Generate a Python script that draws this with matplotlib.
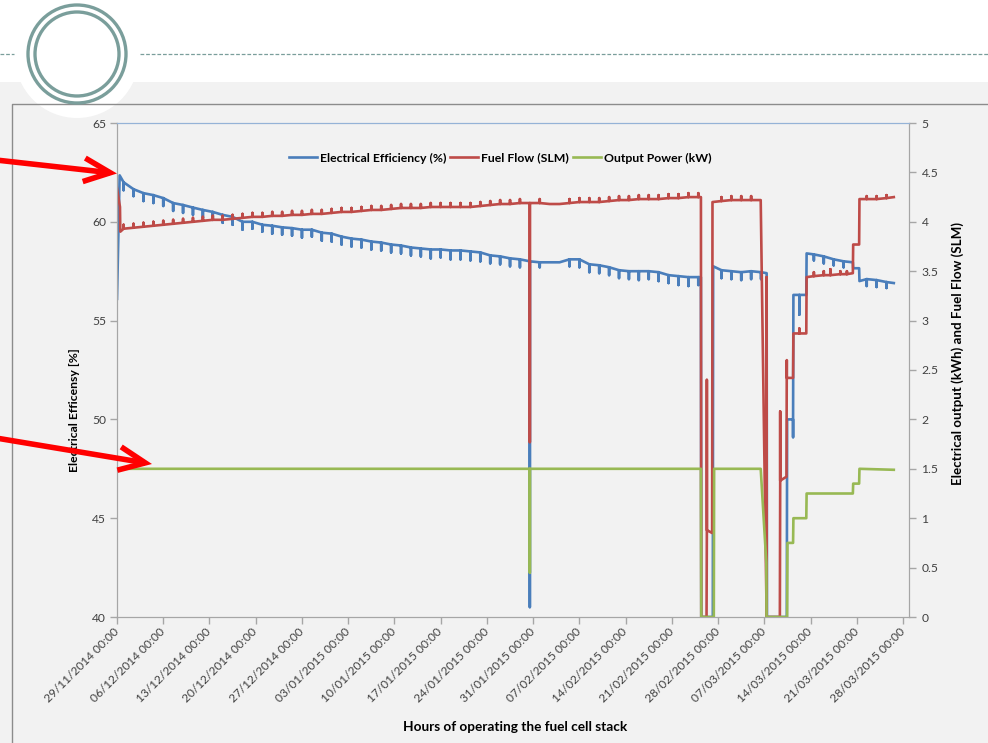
import matplotlib
matplotlib.use('Agg')
import matplotlib.pyplot as plt
from matplotlib.patches import Rectangle, Circle, FancyArrowPatch
from matplotlib.lines import Line2D
from matplotlib.transforms import IdentityTransform

plt.rcParams['font.family'] = ['Lato', 'DejaVu Sans']

# days since 29/11/2014 00:00
grid_day = [1.0, 2.5, 4.0, 5.5, 7.0, 8.5, 10.0, 11.5, 13.0, 14.5,
            16.0, 17.5, 19.0, 20.5, 22.0, 23.5, 25.0, 26.5, 28.0, 29.5,
            31.0, 32.5, 34.0, 35.5, 37.0, 38.5, 40.0, 41.5, 43.0, 44.5,
            46.0, 47.5, 49.0, 50.5, 52.0, 53.5, 55.0, 56.5, 58.0, 59.5,
            61.0, 62.5, 64.0, 65.5, 67.0, 68.5, 70.0, 71.5, 73.0, 74.5,
            76.0, 77.5, 79.0, 80.5, 82.0, 83.5, 85.0, 86.5, 88.0]

# Electrical efficiency (%) - level and the low end of each dip
eff_head_day = [0.0, 0.4]
eff_head = [56.1, 62.35]
eff_grid = [62.0, 61.65, 61.45, 61.35, 61.2, 60.95, 60.85, 60.72, 60.6, 60.5,
            60.35, 60.25, 60.0, 60.0, 59.85, 59.8, 59.72, 59.68, 59.6, 59.6,
            59.45, 59.4, 59.25, 59.15, 59.1, 59.0, 58.95, 58.85, 58.8, 58.7,
            58.65, 58.6, 58.6, 58.55, 58.55, 58.5, 58.45, 58.3, 58.25, 58.15,
            58.1, 58.0, 57.95, 57.95, 57.95, 58.1, 58.1, 57.85, 57.8, 57.7,
            57.55, 57.5, 57.5, 57.5, 57.45, 57.3, 57.25, 57.2, 57.2]
eff_grid_low = [61.6, 61.3, 61.05, 60.95, 60.8, 60.55, 60.45, 60.35, 60.2, 60.1,
                59.95, 59.85, 59.6, 59.65, 59.5, 59.4, 59.35, 59.3, 59.2, 59.25,
                59.05, 59.0, 58.85, 58.75, 58.7, 58.6, 58.55, 58.45, 58.4, 58.3,
                58.25, 58.15, 58.2, 58.1, 58.1, 58.05, 58.0, 57.9, 57.85, 57.75,
                57.7, 40.5, 57.7, 57.95, 57.95, 57.75, 57.7, 57.45, 57.4, 57.3,
                57.15, 57.1, 57.05, 57.1, 57.0, 56.9, 56.8, 56.75, 56.8]
eff_tail_day = [88.4, 88.45, 90.2, 90.25, 91.5, 93.0, 94.5, 96.0, 97.5, 98.35,
                98.4, 101.4, 101.45, 102.35, 102.4, 103.3, 104.35, 104.4, 105.5, 107.0,
                108.5, 110.0, 111.4, 111.45, 112.35, 112.4, 113.5, 115.0, 116.5, 117.6]
eff_tail = [57.2, 40.0, 40.0, 57.75, 57.55, 57.5, 57.45, 57.5, 57.45, 57.4,
            40.0, 40.0, 50.0, 50.0, 56.3, 56.3, 56.3, 58.4, 58.35, 58.25,
            58.1, 58.0, 57.95, 57.65, 57.65, 57.0, 57.1, 57.05, 56.95, 56.9]
eff_tail_low = [57.2, 40.0, 40.0, 57.75, 57.15, 57.1, 57.05, 57.1, 57.1, 57.4,
                40.0, 40.0, 50.0, 49.1, 56.3, 55.3, 56.3, 58.4, 58.05, 57.9,
                57.8, 57.7, 57.95, 57.65, 57.65, 57.0, 56.75, 56.7, 56.65, 56.9]

# Fuel flow (SLM) - level and the end of each spike
flow_head_day = [0.0, 0.45, 0.5]
flow_head = [4.34, 4.15, 3.9]
flow_grid = [3.93, 3.94, 3.95, 3.96, 3.97, 3.98, 3.99, 4.0, 4.01, 4.02,
             4.02, 4.03, 4.04, 4.05, 4.05, 4.06, 4.06, 4.07, 4.07, 4.08,
             4.08, 4.09, 4.1, 4.1, 4.11, 4.12, 4.12, 4.13, 4.14, 4.14,
             4.14, 4.15, 4.15, 4.15, 4.15, 4.15, 4.16, 4.17, 4.18, 4.18,
             4.19, 4.19, 4.19, 4.18, 4.18, 4.19, 4.2, 4.2, 4.2, 4.21,
             4.22, 4.22, 4.23, 4.23, 4.23, 4.24, 4.24, 4.25, 4.25]
flow_grid_peak = [3.97, 3.98, 3.99, 4.0, 4.01, 4.02, 4.03, 4.04, 4.05, 4.06,
                  4.06, 4.07, 4.08, 4.09, 4.09, 4.1, 4.1, 4.11, 4.11, 4.12,
                  4.12, 4.13, 4.14, 4.14, 4.15, 4.16, 4.16, 4.17, 4.18, 4.18,
                  4.18, 4.19, 4.19, 4.19, 4.19, 4.19, 4.2, 4.21, 4.22, 4.22,
                  4.23, 1.77, 4.23, 4.18, 4.18, 4.23, 4.24, 4.24, 4.24, 4.25,
                  4.26, 4.26, 4.27, 4.27, 4.27, 4.28, 4.28, 4.29, 4.29]
flow_tail_day = [88.4, 88.45, 89.25, 89.3, 90.1, 90.15, 91.5, 93.0, 94.5, 96.0,
                 97.45, 98.35, 98.4, 100.35, 100.4, 101.35, 101.4, 102.35, 102.4, 103.3,
                 104.35, 104.4, 105.5, 107.0, 108.0, 109.5, 110.5, 111.4, 111.45, 112.35,
                 112.4, 113.5, 115.0, 116.5, 117.6]
flow_tail = [4.25, 0.0, 0.0, 0.88, 0.85, 4.2, 4.21, 4.22, 4.22, 4.22,
             4.22, 0.0, 0.0, 0.0, 1.38, 1.42, 2.42, 2.42, 2.87, 2.87,
             2.87, 3.44, 3.45, 3.46, 3.46, 3.47, 3.47, 3.48, 3.77, 3.77,
             4.23, 4.23, 4.23, 4.24, 4.25]
flow_tail_peak = [4.25, 0.0, 0.0, 2.4, 0.85, 4.2, 4.25, 4.26, 4.26, 4.26,
                  4.22, 3.44, 0.0, 0.0, 2.08, 1.42, 2.6, 2.42, 2.87, 2.92,
                  2.87, 3.44, 3.49, 3.5, 3.52, 3.5, 3.5, 3.48, 3.77, 3.77,
                  4.23, 4.26, 4.26, 4.27, 4.25]

# Output power (kW)
pow_day = [0.0, 62.5, 88.4, 88.45, 90.35, 90.4, 97.45, 98.3, 98.33, 101.45,
           101.5, 102.35, 102.4, 104.35, 104.4, 111.4, 111.45, 112.35, 112.4, 117.6]
pow_val = [1.5, 1.5, 1.5, 0.0, 0.0, 1.5, 1.5, 0.55, 0.0, 0.0,
           0.75, 0.75, 1.0, 1.0, 1.25, 1.25, 1.35, 1.35, 1.5, 1.49]
pow_low = [1.5, 0.45, 1.5, 0.0, 0.0, 1.5, 1.5, 0.55, 0.0, 0.0,
           0.75, 0.75, 1.0, 1.0, 1.25, 1.25, 1.35, 1.35, 1.5, 1.49]

date_ticks = [0, 7, 14, 21, 28, 35, 42, 49, 56, 63, 70, 77, 84, 91, 98, 105, 112, 119]
date_labels = ['29/11/2014 00:00', '06/12/2014 00:00', '13/12/2014 00:00', '20/12/2014 00:00',
               '27/12/2014 00:00', '03/01/2015 00:00', '10/01/2015 00:00', '17/01/2015 00:00',
               '24/01/2015 00:00', '31/01/2015 00:00', '07/02/2015 00:00', '14/02/2015 00:00',
               '21/02/2015 00:00', '28/02/2015 00:00', '07/03/2015 00:00', '14/03/2015 00:00',
               '21/03/2015 00:00', '28/03/2015 00:00']
right_ticks = [0, 0.5, 1, 1.5, 2, 2.5, 3, 3.5, 4, 4.5, 5]
right_labels = ['0', '0.5', '1', '1.5', '2', '2.5', '3', '3.5', '4', '4.5', '5']


def spiky(days, vals, ext):
    xs, ys = [], []
    for d, v, e in zip(days, vals, ext):
        if e == v:
            xs.append(d)
            ys.append(v)
        else:
            xs += [d, d, d]
            ys += [v, e, v]
    return xs, ys


W, H = 988, 743
fig = plt.figure(figsize=(W / 100, H / 100), dpi=100, facecolor='white')
px = IdentityTransform()

# slide decoration
fig.add_artist(Rectangle((0, 0), W, H - 82, transform=px, facecolor='#f2f2f2',
                         edgecolor='none', zorder=0))
fig.add_artist(Circle((77, H - 56), 62, transform=px, facecolor='white',
                      edgecolor='none', zorder=1))
fig.add_artist(Line2D([12, 12, W], [0, H - 104, H - 104], transform=px,
                      color='#8c8c8c', lw=1.0, zorder=2))
for r in (49, 42):
    fig.add_artist(Circle((77, H - 54), r, transform=px, facecolor='none',
                          edgecolor='#7a9e9b', lw=2.4, zorder=3))
for x0, x1 in ((0, 14), (140, W)):
    fig.add_artist(Line2D([x0, x1], [H - 54, H - 54], transform=px, color='#7a9e9b',
                          lw=0.9, dashes=(3, 1.5), zorder=3))

ax = fig.add_axes([117 / W, 1 - 617 / H, 792 / W, 494 / H])
ax.set_facecolor('none')
ax2 = ax.twinx()

ex, ey = spiky(eff_head_day + grid_day + eff_tail_day,
               eff_head + eff_grid + eff_tail,
               eff_head + eff_grid_low + eff_tail_low)
fx_, fy_ = spiky(flow_head_day + grid_day + flow_tail_day,
                 flow_head + flow_grid + flow_tail,
                 flow_head + flow_grid_peak + flow_tail_peak)
px_, py_ = spiky(pow_day, pow_val, pow_low)

l1, = ax.plot(ex, ey, color='#4a7ebb', lw=1.9, label='Electrical Efficiency (%)')
l2, = ax2.plot(fx_, fy_, color='#be4b48', lw=1.9, label='Fuel Flow (SLM)')
l3, = ax2.plot(px_, py_, color='#98b954', lw=1.9, label='Output Power (kW)')

ax.set_xlim(0, 119.9)
ax.set_ylim(40, 65)
ax2.set_ylim(0, 5)
ax.set_yticks([40, 45, 50, 55, 60, 65])
ax2.set_yticks(right_ticks)
ax2.set_yticklabels(right_labels)
ax.set_xticks(date_ticks)
ax.set_xticklabels(date_labels, rotation=45, ha='right', va='center',
                   rotation_mode='anchor')

for a in (ax, ax2):
    for s in ('left', 'right', 'bottom'):
        a.spines[s].set_color('#a6a6a6')
    a.spines['top'].set_color('#95b3d7')
    a.tick_params(colors='#a6a6a6', labelcolor='#404040', labelsize=8.7, length=5, width=1)
ax.tick_params(axis='x', pad=4, labelsize=8.6)
ax.tick_params(axis='y', pad=3)
ax2.tick_params(axis='y', pad=4)

leg = ax.legend(handles=[l1, l2, l3], loc='center', bbox_to_anchor=(0.484, 0.929),
                ncol=3, frameon=False, handlelength=2.3, handletextpad=0.25,
                columnspacing=0.3, prop={'weight': 'bold', 'size': 8.8})

fig.text(75 / W, 1 - 410 / H, 'Electrical Efficensy [%]', rotation=90, ha='center',
         va='center', fontsize=8.8, fontweight='bold', color='black')
fig.text(958 / W, 1 - 353 / H, 'Electrical output (kWh) and Fuel Flow (SLM)', rotation=90,
         ha='center', va='center', fontsize=9.6, fontweight='bold', color='black')
fig.text(515 / W, 1 - 727 / H, 'Hours of operating the fuel cell stack', ha='center',
         va='center', fontsize=9.8, fontweight='bold', color='black')

# red arrows
for tail, tip in (((-4, 160), (117, 173.5)), ((-4, 438), (152, 464))):
    fig.add_artist(FancyArrowPatch((tail[0], H - tail[1]), (tip[0], H - tip[1]),
                                   transform=px, arrowstyle='->,head_length=19,head_width=8.5',
                                   color='#ff0000', lw=4.0, shrinkA=0, shrinkB=0,
                                   mutation_scale=1, joinstyle='miter', capstyle='butt',
                                   zorder=10))

fig.savefig('out.png', dpi=100, facecolor='white')
